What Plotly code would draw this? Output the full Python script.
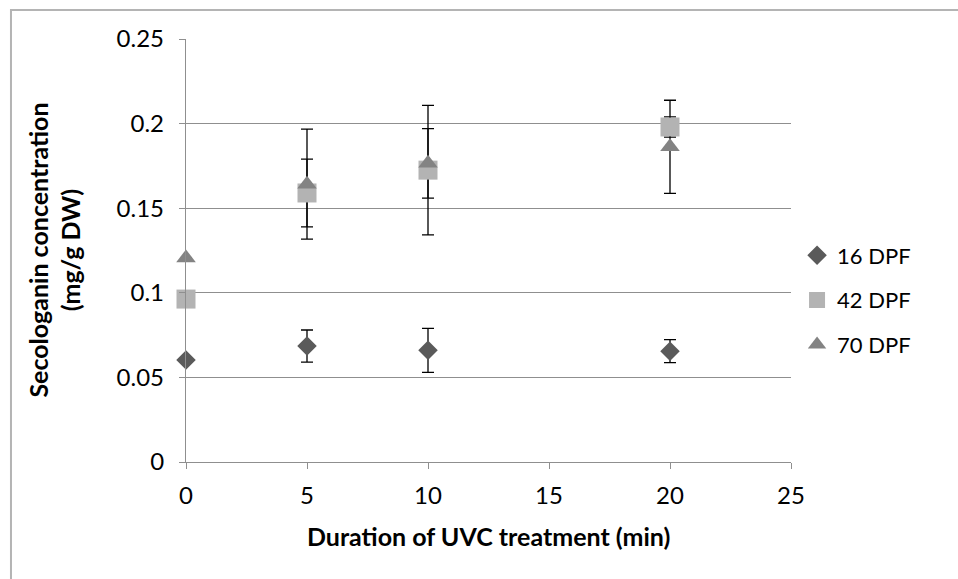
import plotly.graph_objects as go

# UVC exposure time (min)
durations = [0, 5, 10, 20]

# Secologanin content (mg/g DW) and standard deviations per fruit age
series_names = ["16 DPF", "42 DPF", "70 DPF"]
conc_16 = [0.0603, 0.0685, 0.0660, 0.0655]
err_16 = [0.0, 0.0095, 0.0130, 0.0068]
conc_42 = [0.0963, 0.1590, 0.1725, 0.1980]
err_42 = [0.0, 0.0200, 0.0383, 0.0060]
conc_70 = [0.1206, 0.1642, 0.1765, 0.1863]
err_70 = [0.0, 0.0325, 0.0205, 0.0275]

x_ticks = [0, 5, 10, 15, 20, 25]
y_ticks = [0, 0.05, 0.1, 0.15, 0.2, 0.25]
y_tick_text = ["0", "0.05", "0.1", "0.15", "0.2", "0.25"]

values = [conc_16, conc_42, conc_70]
errors = [err_16, err_42, err_70]
symbols = ["diamond", "square", "triangle-up"]
sizes = [15, 19, 17]
colors = ["#5a5a5a", "#b3b3b3", "#838383"]

FONT = "Lato"
GRID = "#8f8f8f"

fig = go.Figure()

# error bars first, so every marker sits on top of them
for name, y, e in zip(series_names, values, errors):
    fig.add_trace(go.Scatter(
        x=durations, y=y, mode="markers",
        marker=dict(size=1, color="rgba(0,0,0,0)"),
        error_y=dict(type="data", array=e, visible=True,
                     color="#000000", thickness=1.3, width=6),
        showlegend=False, hoverinfo="skip", cliponaxis=False,
    ))

for i, (name, y) in enumerate(zip(series_names, values)):
    fig.add_trace(go.Scatter(
        x=durations, y=y, mode="markers", name=name,
        legendgroup=name, cliponaxis=False,
        marker=dict(symbol=symbols[i], size=sizes[i], color=colors[i],
                    line=dict(width=0)),
    ))

fig.update_layout(
    width=958, height=579,
    margin=dict(l=186, r=167, t=39, b=117),
    paper_bgcolor="white", plot_bgcolor="white",
    font=dict(family=FONT, size=22, color="#000000"),
    showlegend=True,
    legend=dict(
        x=1.01, y=0.383, xanchor="left", yanchor="middle",
        traceorder="grouped", tracegroupgap=13,
        font=dict(family=FONT, size=22, color="#000000"),
        itemwidth=30, bgcolor="rgba(0,0,0,0)",
    ),
    xaxis=dict(
        range=[0, 25], tickvals=x_ticks, ticktext=[str(v) for v in x_ticks],
        showgrid=False, zeroline=False,
        showline=True, linecolor=GRID, linewidth=1.3,
        ticks="outside", ticklen=6, tickcolor=GRID, tickwidth=1.3,
        ticklabelstandoff=6,
        tickfont=dict(family=FONT, size=24),
    ),
    yaxis=dict(
        range=[0, 0.25], tickvals=y_ticks, ticktext=y_tick_text,
        showgrid=True, gridcolor=GRID, gridwidth=1.3, zeroline=False,
        showline=True, linecolor=GRID, linewidth=1.3,
        ticks="outside", ticklen=6, tickcolor=GRID, tickwidth=1.3,
        ticklabelstandoff=10,
        tickfont=dict(family=FONT, size=24),
    ),
    annotations=[
        dict(text="<b>Duration of UVC treatment (min)</b>",
             xref="paper", yref="paper", x=0.5, y=-0.175,
             xanchor="center", yanchor="middle", showarrow=False,
             font=dict(family=FONT, size=25)),
        dict(text="<b>Secologanin concentration<br>(mg/g DW)</b>",
             xref="paper", yref="paper", x=-0.218, y=0.5,
             xanchor="center", yanchor="middle", showarrow=False,
             textangle=-90, font=dict(family=FONT, size=25)),
    ],
    shapes=[
        # outer chart frame
        dict(type="rect", xref="paper", yref="paper",
             x0=-0.2893, y0=-0.31, x1=1.285, y1=1.0686,
             line=dict(color="#b4b4b4", width=2), layer="below"),
    ],
)

fig.write_html("out.html")
